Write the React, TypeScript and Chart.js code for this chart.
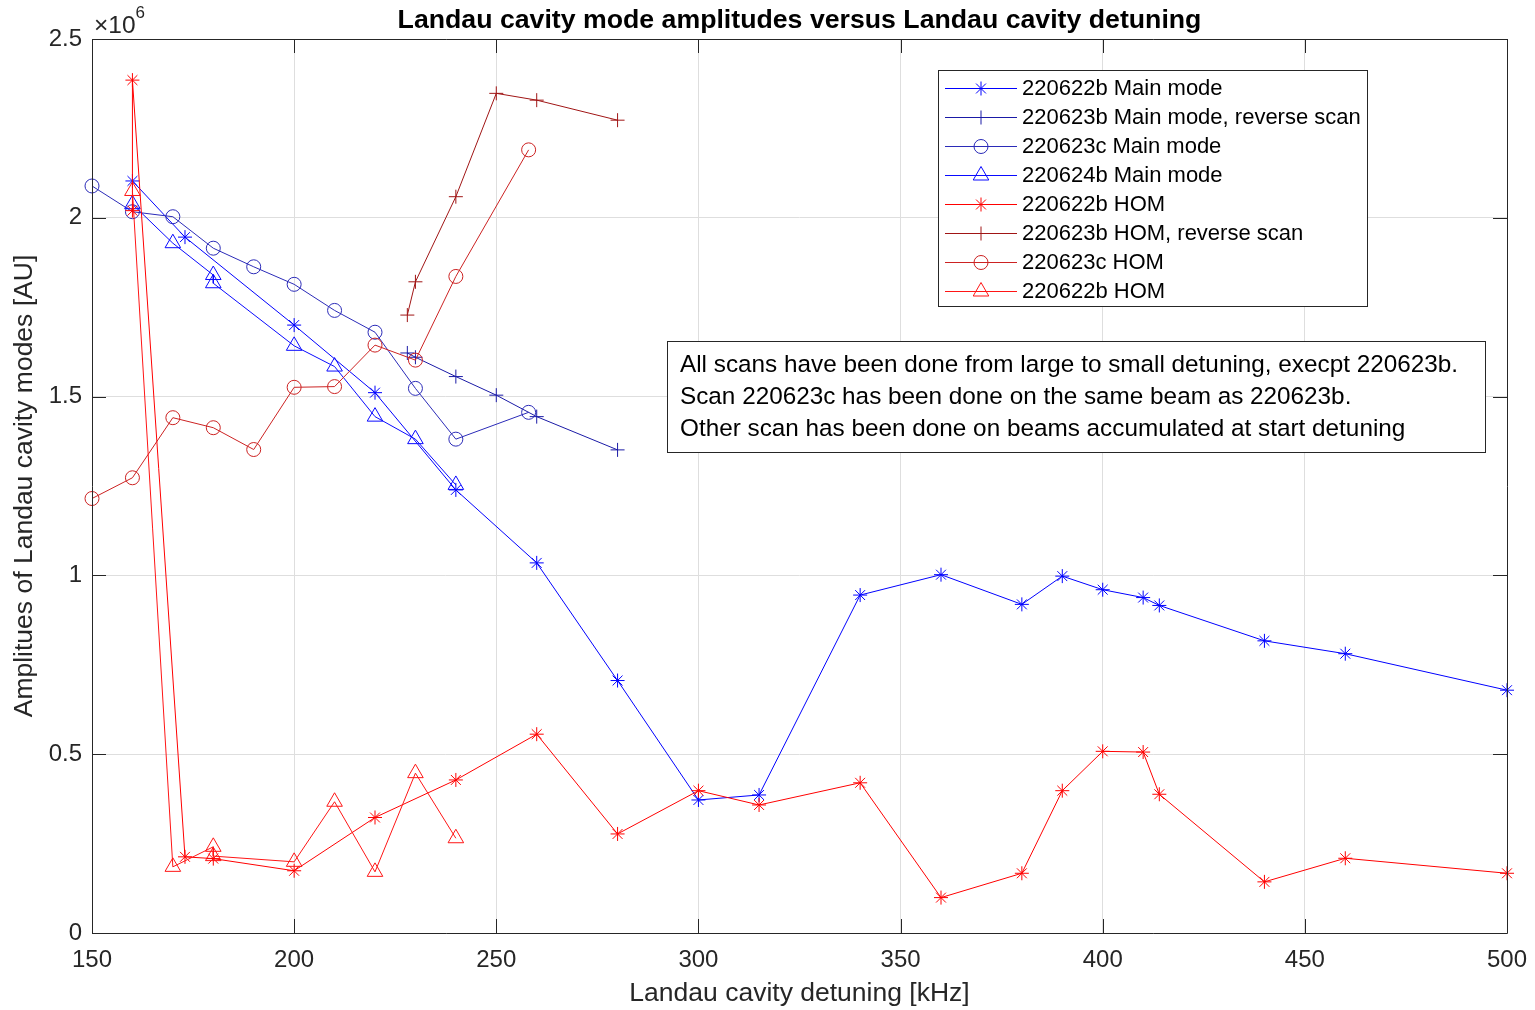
import React, { useEffect, useRef } from 'react';
import { Chart, registerables } from 'chart.js';

Chart.register(...registerables);

// Axis ticks
const xTickValues = [150, 200, 250, 300, 350, 400, 450, 500];
const yTickValues = [0, 0.5, 1, 1.5, 2, 2.5]; // in units of 10^6

// Main mode series (values in units of 10^6 AU)
const main220622bX = [160, 173, 200, 220, 240, 260, 280, 300, 315, 340, 360, 380, 390, 400, 410, 414, 440, 460, 500];
const main220622bY = [2.103, 1.946, 1.700, 1.511, 1.239, 1.035, 0.706, 0.372, 0.386, 0.945, 1.002, 0.919, 0.998, 0.960, 0.938, 0.916, 0.817, 0.781, 0.679];

const main220623bX = [228, 230, 240, 250, 260, 280];
const main220623bY = [1.622, 1.610, 1.556, 1.504, 1.444, 1.351];

const main220623cX = [150, 160, 170, 180, 190, 200, 210, 220, 230, 240, 258];
const main220623cY = [2.089, 2.017, 2.003, 1.915, 1.863, 1.814, 1.741, 1.680, 1.523, 1.381, 1.456];

const main220624bX = [160, 170, 180, 180, 200, 210, 220, 230, 240];
const main220624bY = [2.038, 1.929, 1.840, 1.817, 1.642, 1.584, 1.444, 1.381, 1.253];

// HOM series
const hom220622bX = [160, 160, 173, 180, 200, 220, 240, 260, 280, 300, 315, 340, 360, 380, 390, 400, 410, 414, 440, 460, 500];
const hom220622bY = [2.020, 2.385, 0.213, 0.208, 0.174, 0.323, 0.428, 0.556, 0.277, 0.398, 0.358, 0.420, 0.099, 0.167, 0.398, 0.508, 0.506, 0.388, 0.143, 0.209, 0.167];

const hom220623bX = [228, 230, 240, 250, 260, 280];
const hom220623bY = [1.728, 1.821, 2.059, 2.348, 2.329, 2.273];

const hom220623cX = [150, 160, 170, 180, 190, 200, 210, 220, 230, 240, 258];
const hom220623cY = [1.215, 1.273, 1.441, 1.413, 1.352, 1.526, 1.528, 1.644, 1.602, 1.836, 2.190];

const hom220624bX = [160, 170, 180, 180, 200, 210, 220, 230, 240];
const hom220624bY = [2.075, 0.185, 0.241, 0.215, 0.199, 0.367, 0.171, 0.447, 0.265];

const seriesLabels = [
  '220622b Main mode',
  '220623b Main mode, reverse scan',
  '220623c Main mode',
  '220624b Main mode',
  '220622b HOM',
  '220623b HOM, reverse scan',
  '220623c HOM',
  '220622b HOM',
];

const titleText = 'Landau cavity mode amplitudes versus Landau cavity detuning';
const xLabelText = 'Landau cavity detuning [kHz]';
const yLabelText = 'Amplitues of Landau cavity modes [AU]';
const noteLines = [
  'All scans have been done from large to small detuning, execpt 220623b.',
  'Scan 220623c has been done on the same beam as 220623b.',
  'Other scan has been done on beams accumulated at start detuning',
];

const FONT = '"Liberation Sans", Arial, Helvetica, sans-serif';
const AXIS_COLOR = '#262626';

function toPoints(xs: number[], ys: number[]) {
  return xs.map((x, i) => ({ x, y: ys[i] }));
}

function drawMarker(ctx: CanvasRenderingContext2D, style: string, x: number, y: number, r: number, color: string) {
  ctx.save();
  ctx.strokeStyle = color;
  ctx.lineWidth = 1;
  ctx.beginPath();
  if (style === 'star') {
    for (let k = 0; k < 4; k++) {
      const a = (k * Math.PI) / 4;
      ctx.moveTo(x - r * Math.cos(a), y - r * Math.sin(a));
      ctx.lineTo(x + r * Math.cos(a), y + r * Math.sin(a));
    }
  } else if (style === 'cross') {
    ctx.moveTo(x - r, y);
    ctx.lineTo(x + r, y);
    ctx.moveTo(x, y - r);
    ctx.lineTo(x, y + r);
  } else if (style === 'circle') {
    ctx.arc(x, y, r, 0, Math.PI * 2);
  } else if (style === 'triangle') {
    for (let k = 0; k < 3; k++) {
      const a = -Math.PI / 2 + (k * 2 * Math.PI) / 3;
      const px = x + r * Math.cos(a);
      const py = y + r * Math.sin(a);
      if (k === 0) ctx.moveTo(px, py);
      else ctx.lineTo(px, py);
    }
    ctx.closePath();
  }
  ctx.stroke();
  ctx.restore();
}

const matlabPlugin = {
  id: 'matlabDecor',
  afterDatasetsDraw(chart: any) {
    const ctx: CanvasRenderingContext2D = chart.ctx;
    const { left, right, top, bottom } = chart.chartArea;
    const xs = chart.scales.x;
    const ys = chart.scales.y;
    ctx.save();
    ctx.strokeStyle = AXIS_COLOR;
    ctx.lineWidth = 1;
    ctx.beginPath();
    ctx.rect(Math.round(left) + 0.5, Math.round(top) + 0.5, Math.round(right - left), Math.round(bottom - top));
    const tl = 14;
    xTickValues.forEach((v) => {
      const px = Math.round(xs.getPixelForValue(v)) + 0.5;
      ctx.moveTo(px, bottom);
      ctx.lineTo(px, bottom - tl);
      ctx.moveTo(px, top);
      ctx.lineTo(px, top + tl);
    });
    yTickValues.forEach((v) => {
      const py = Math.round(ys.getPixelForValue(v)) + 0.5;
      ctx.moveTo(left, py);
      ctx.lineTo(left + tl, py);
      ctx.moveTo(right, py);
      ctx.lineTo(right - tl, py);
    });
    ctx.stroke();
    ctx.restore();
  },
  afterDraw(chart: any) {
    const ctx: CanvasRenderingContext2D = chart.ctx;
    const { left, right } = chart.chartArea;
    ctx.save();
    // Title
    ctx.fillStyle = '#000000';
    ctx.font = `bold 26.7px ${FONT}`;
    ctx.textAlign = 'center';
    ctx.textBaseline = 'middle';
    ctx.fillText(titleText, (left + right) / 2, 21);

    // Exponent
    ctx.fillStyle = AXIS_COLOR;
    ctx.textAlign = 'left';
    ctx.textBaseline = 'alphabetic';
    ctx.font = `24.5px ${FONT}`;
    ctx.fillText('\u00d710', 94, 33);
    const w = ctx.measureText('\u00d710').width;
    ctx.font = `17px ${FONT}`;
    ctx.fillText('6', 94 + w, 18);

    // Legend
    const lx = 938.5, ly = 70.5, lw = 429, lh = 236;
    ctx.fillStyle = '#ffffff';
    ctx.fillRect(lx, ly, lw, lh);
    ctx.strokeStyle = AXIS_COLOR;
    ctx.lineWidth = 1;
    ctx.strokeRect(lx, ly, lw, lh);
    ctx.font = `22px ${FONT}`;
    ctx.textBaseline = 'middle';
    chart.data.datasets.forEach((ds: any, i: number) => {
      const y = Math.round(88 + i * 29) + 0.5;
      const col = String(ds.borderColor);
      ctx.strokeStyle = col;
      ctx.lineWidth = 1.2;
      ctx.beginPath();
      ctx.moveTo(945, y);
      ctx.lineTo(1017, y);
      ctx.stroke();
      drawMarker(ctx, ds.pointStyle, 981, y, ds.pointRadius, col);
      ctx.fillStyle = '#000000';
      ctx.fillText(ds.label, 1022, y);
    });

    // Note box
    const bx = 667.5, by = 341.5, bw = 818, bh = 111;
    ctx.fillStyle = '#ffffff';
    ctx.fillRect(bx, by, bw, bh);
    ctx.strokeStyle = AXIS_COLOR;
    ctx.lineWidth = 1;
    ctx.strokeRect(bx, by, bw, bh);
    ctx.fillStyle = '#000000';
    ctx.font = `24.3px ${FONT}`;
    noteLines.forEach((t, i) => {
      ctx.fillText(t, 680, 365 + i * 32);
    });
    ctx.restore();
  },
};

export default function App() {
  const canvasRef = useRef<HTMLCanvasElement | null>(null);

  useEffect(() => {
    document.body.style.margin = '0';
    document.body.style.overflow = 'hidden';
    document.documentElement.style.overflow = 'hidden';
    const canvas = canvasRef.current;
    if (!canvas) return;

    const makeDs = (i: number, xs: number[], ys: number[], color: string, style: string, r: number) => ({
      label: seriesLabels[i],
      data: toPoints(xs, ys),
      borderColor: color,
      backgroundColor: color,
      borderWidth: 1,
      pointStyle: style,
      pointRadius: r,
      pointHoverRadius: r,
      pointBorderWidth: 1,
      pointBackgroundColor: 'rgba(0,0,0,0)',
      pointBorderColor: color,
      tension: 0,
      fill: false,
      clip: false as any,
      order: 8 - i,
    });

    const datasets = [
      makeDs(0, main220622bX, main220622bY, '#0000ff', 'star', 7),
      makeDs(1, main220623bX, main220623bY, '#1a1aa6', 'cross', 7),
      makeDs(2, main220623cX, main220623cY, '#2b2bb8', 'circle', 7),
      makeDs(3, main220624bX, main220624bY, '#0a0aff', 'triangle', 9),
      makeDs(4, hom220622bX, hom220622bY, '#ff0000', 'star', 7),
      makeDs(5, hom220623bX, hom220623bY, '#a01515', 'cross', 7),
      makeDs(6, hom220623cX, hom220623cY, '#cc2222', 'circle', 7),
      makeDs(7, hom220624bX, hom220624bY, '#ff1515', 'triangle', 9),
    ];

    const chart = new Chart(canvas, {
      type: 'line',
      data: { datasets: datasets as any },
      options: {
        responsive: false,
        animation: false,
        devicePixelRatio: 1,
        layout: { padding: { left: 0, right: 28, top: 39, bottom: 0 } },
        plugins: {
          legend: { display: false },
          title: { display: false },
          tooltip: { enabled: false },
        },
        scales: {
          x: {
            type: 'linear',
            min: 150,
            max: 500,
            afterBuildTicks: (s: any) => {
              s.ticks = xTickValues.map((v) => ({ value: v }));
            },
            afterFit: (s: any) => {
              s.height = 77;
              s.paddingLeft = 0;
              s.paddingRight = 0;
            },
            grid: { color: '#dedede', lineWidth: 1, drawTicks: false },
            border: { display: false },
            ticks: {
              color: AXIS_COLOR,
              font: { family: FONT, size: 24 },
              padding: 13,
              maxRotation: 0,
              autoSkip: false,
              callback: (v: any) => String(v),
            },
            title: {
              display: true,
              text: xLabelText,
              color: AXIS_COLOR,
              font: { family: FONT, size: 26.5 },
              padding: { top: 0, bottom: 0 },
            },
          },
          y: {
            type: 'linear',
            min: 0,
            max: 2.5,
            afterBuildTicks: (s: any) => {
              s.ticks = yTickValues.map((v) => ({ value: v }));
            },
            afterFit: (s: any) => {
              s.width = 92;
            },
            grid: { color: '#dedede', lineWidth: 1, drawTicks: false },
            border: { display: false },
            ticks: {
              color: AXIS_COLOR,
              font: { family: FONT, size: 24 },
              padding: 10,
              autoSkip: false,
              callback: (v: any) => String(v),
            },
            title: {
              display: true,
              text: yLabelText,
              color: AXIS_COLOR,
              font: { family: FONT, size: 26.5 },
              padding: { top: 9, bottom: 0 },
            },
          },
        },
      },
      plugins: [matlabPlugin as any],
    });

    return () => {
      chart.destroy();
    };
  }, []);

  return (
    <div style={{ width: 1535, height: 1010, overflow: 'hidden' }}>
      <canvas ref={canvasRef} width={1535} height={1010} style={{ display: 'block', width: 1535, height: 1010 }} />
    </div>
  );
}
